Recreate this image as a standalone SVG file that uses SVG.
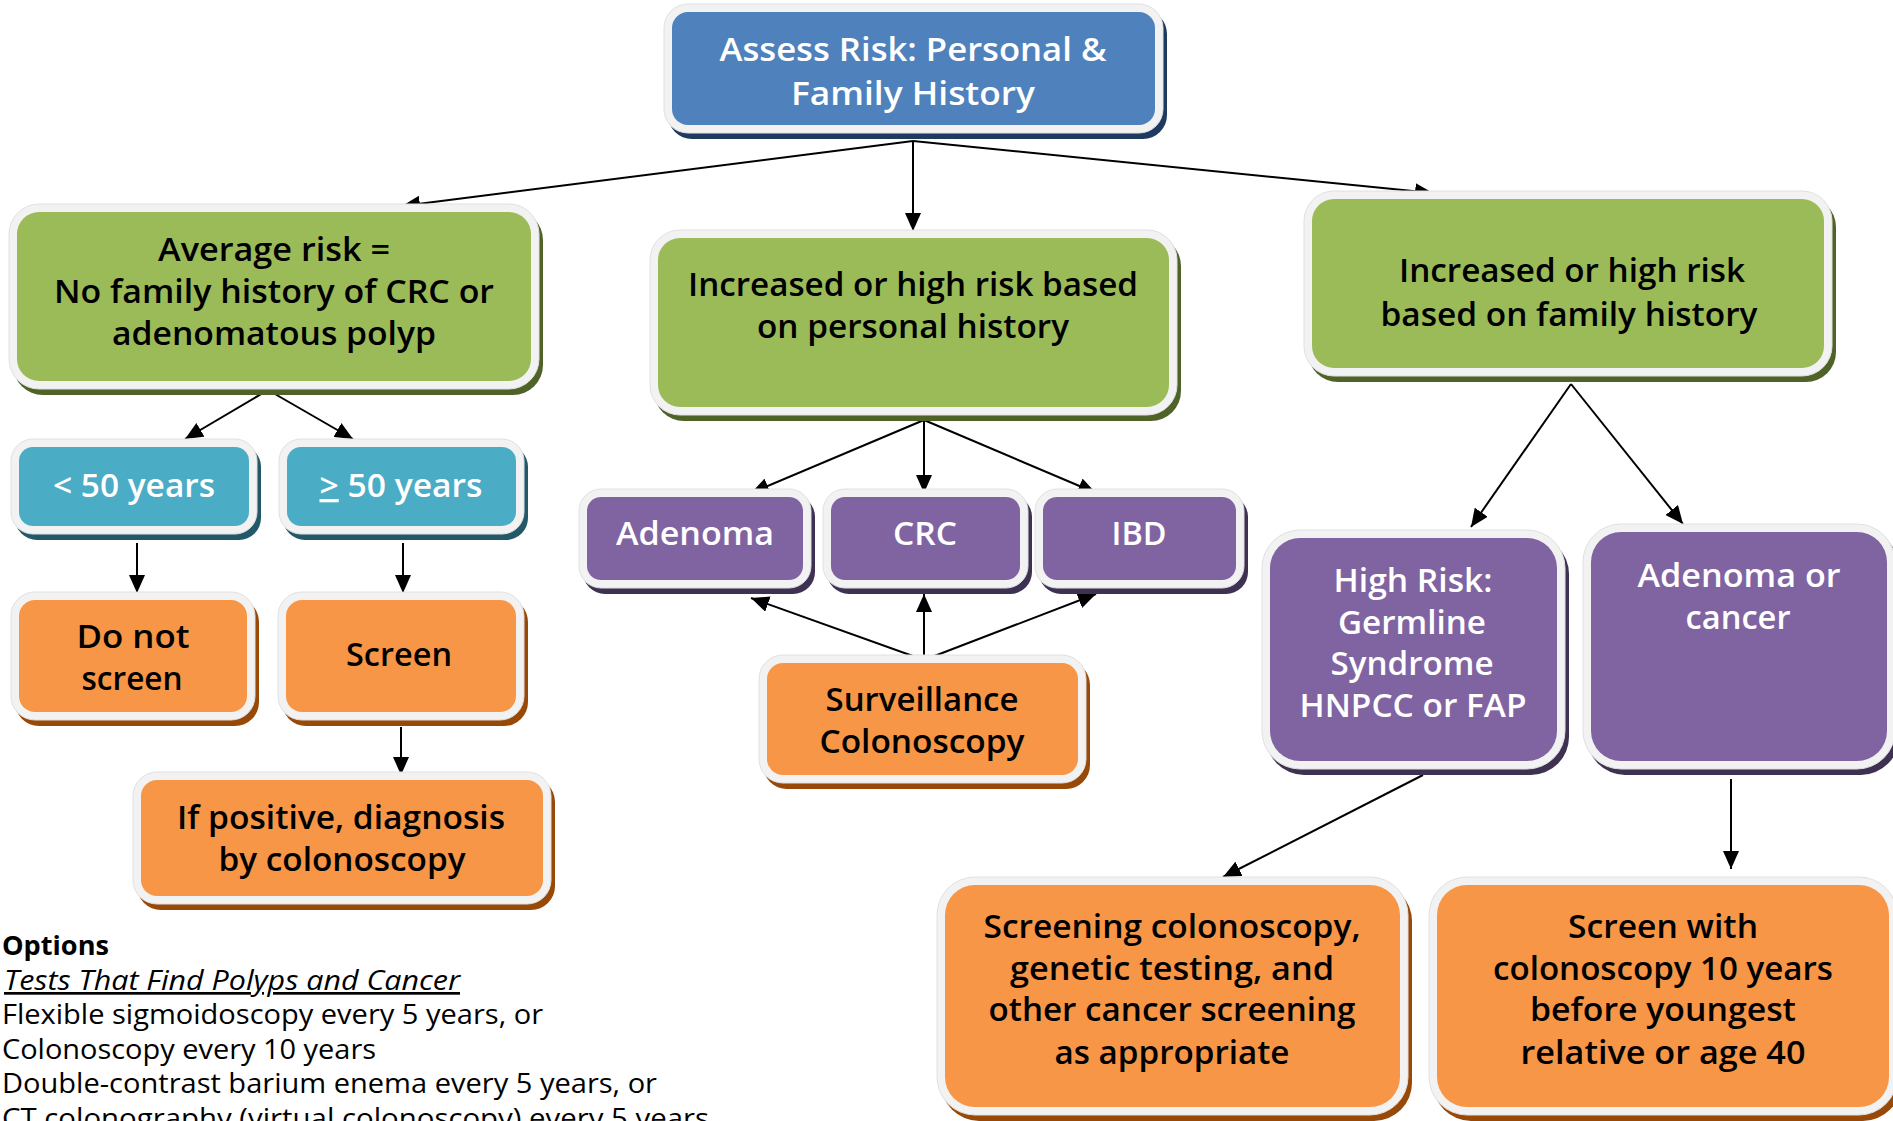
<svg xmlns="http://www.w3.org/2000/svg" width="1893" height="1121" viewBox="0 0 1893 1121">
<style>
  .border { fill: #f2f2f2; stroke: #e0e0e0; stroke-width: 1; }
  .blue { fill: #4f81bd; } .sh-blue { fill: #1f3a5f; }
  .green { fill: #9bbb59; } .sh-green { fill: #4f6228; }
  .teal { fill: #4bacc6; } .sh-teal { fill: #215968; }
  .orange { fill: #f79646; } .sh-orange { fill: #984807; }
  .purple { fill: #8064a2; } .sh-purple { fill: #3f3151; }
  text { font-family: "Open Sans", "Noto Sans", "Liberation Sans", sans-serif; }
  .t { font-size: 33px; font-weight: 600; text-anchor: middle; }
  .dark { fill: #000000; }
  .light { fill: #ffffff; }
  .opt { font-size: 27px; fill: #000000; }
  .conn line { stroke: #000000; stroke-width: 2; fill: none; }
</style>
<defs>
  <marker id="ah" markerUnits="userSpaceOnUse" markerWidth="19" markerHeight="16" refX="18" refY="8" orient="auto">
    <path d="M0,0 L18,8 L0,16 z" fill="#000000"/>
  </marker>
</defs>

<g class="conn" id="connectors">
  <line x1="913" y1="141" x2="402" y2="206" marker-end="url(#ah)"/>
  <line x1="913" y1="141" x2="913" y2="231" marker-end="url(#ah)"/>
  <line x1="913" y1="141" x2="1433" y2="193" marker-end="url(#ah)"/>
  <line x1="268" y1="390" x2="185" y2="439" marker-end="url(#ah)"/>
  <line x1="268" y1="390" x2="353" y2="439" marker-end="url(#ah)"/>
  <line x1="137" y1="543" x2="137" y2="593" marker-end="url(#ah)"/>
  <line x1="403" y1="543" x2="403" y2="593" marker-end="url(#ah)"/>
  <line x1="401" y1="727" x2="401" y2="775" marker-end="url(#ah)"/>
  <line x1="924" y1="420" x2="751" y2="493" marker-end="url(#ah)"/>
  <line x1="924" y1="420" x2="924" y2="493" marker-end="url(#ah)"/>
  <line x1="924" y1="420" x2="1096" y2="493" marker-end="url(#ah)"/>
  <line x1="924" y1="660" x2="751" y2="598" marker-end="url(#ah)"/>
  <line x1="924" y1="660" x2="924" y2="594" marker-end="url(#ah)"/>
  <line x1="924" y1="660" x2="1096" y2="594" marker-end="url(#ah)"/>
  <line x1="1571" y1="384" x2="1471" y2="527" marker-end="url(#ah)"/>
  <line x1="1571" y1="384" x2="1683" y2="524" marker-end="url(#ah)"/>
  <line x1="1423" y1="775" x2="1223" y2="877" marker-end="url(#ah)"/>
  <line x1="1731" y1="779" x2="1731" y2="869" marker-end="url(#ah)"/>
</g>

<g id="assess-risk">
  <rect class="sh-blue" x="668" y="10" width="499" height="129" rx="24"/>
  <rect class="border" x="664" y="4" width="499" height="129" rx="24"/>
  <rect class="blue" x="672" y="12" width="483" height="113" rx="16"/>
  <text class="t light" x="913" y="61" textLength="387" lengthAdjust="spacingAndGlyphs">Assess Risk: Personal &amp;</text>
  <text class="t light" x="913" y="105" textLength="244" lengthAdjust="spacingAndGlyphs">Family History</text>
</g>

<g id="average-risk">
  <rect class="sh-green" x="13" y="210" width="530" height="185" rx="30"/>
  <rect class="border" x="9" y="204" width="530" height="185" rx="30"/>
  <rect class="green" x="17" y="212" width="514" height="169" rx="22"/>
  <text class="t dark" x="274" y="261" textLength="232" lengthAdjust="spacingAndGlyphs">Average risk =</text>
  <text class="t dark" x="274" y="303" textLength="440" lengthAdjust="spacingAndGlyphs">No family history of CRC or</text>
  <text class="t dark" x="274" y="345" textLength="324" lengthAdjust="spacingAndGlyphs">adenomatous polyp</text>
</g>

<g id="personal-history">
  <rect class="sh-green" x="654" y="236" width="527" height="185" rx="30"/>
  <rect class="border" x="650" y="230" width="527" height="185" rx="30"/>
  <rect class="green" x="658" y="238" width="511" height="169" rx="22"/>
  <text class="t dark" x="913" y="296" textLength="450" lengthAdjust="spacingAndGlyphs">Increased or high risk based</text>
  <text class="t dark" x="913" y="338" textLength="312" lengthAdjust="spacingAndGlyphs">on personal history</text>
</g>

<g id="family-history">
  <rect class="sh-green" x="1308" y="197" width="528" height="185" rx="30"/>
  <rect class="border" x="1304" y="191" width="528" height="185" rx="30"/>
  <rect class="green" x="1312" y="199" width="512" height="169" rx="22"/>
  <text class="t dark" x="1572" y="282" textLength="346" lengthAdjust="spacingAndGlyphs">Increased or high risk</text>
  <text class="t dark" x="1569" y="326" textLength="377" lengthAdjust="spacingAndGlyphs">based on family history</text>
</g>

<g id="under-50">
  <rect class="sh-teal" x="15" y="445" width="246" height="95" rx="22"/>
  <rect class="border" x="11" y="439" width="246" height="95" rx="22"/>
  <rect class="teal" x="19" y="447" width="230" height="79" rx="14"/>
  <text class="t light" x="134" y="497" textLength="162" lengthAdjust="spacingAndGlyphs">&lt; 50 years</text>
</g>

<g id="over-50">
  <rect class="sh-teal" x="283" y="445" width="245" height="95" rx="22"/>
  <rect class="border" x="279" y="439" width="245" height="95" rx="22"/>
  <rect class="teal" x="287" y="447" width="229" height="79" rx="14"/>
  <text class="t light" x="401" y="497" textLength="163" lengthAdjust="spacingAndGlyphs"><tspan text-decoration="underline">&gt;</tspan> 50 years</text>
</g>

<g id="do-not-screen">
  <rect class="sh-orange" x="15" y="598" width="244" height="128" rx="24"/>
  <rect class="border" x="11" y="592" width="244" height="128" rx="24"/>
  <rect class="orange" x="19" y="600" width="228" height="112" rx="16"/>
  <text class="t dark" x="133" y="648" textLength="113" lengthAdjust="spacingAndGlyphs">Do not</text>
  <text class="t dark" x="132" y="690" textLength="101" lengthAdjust="spacingAndGlyphs">screen</text>
</g>

<g id="screen">
  <rect class="sh-orange" x="282" y="598" width="246" height="128" rx="24"/>
  <rect class="border" x="278" y="592" width="246" height="128" rx="24"/>
  <rect class="orange" x="286" y="600" width="230" height="112" rx="16"/>
  <text class="t dark" x="399" y="666" textLength="106" lengthAdjust="spacingAndGlyphs">Screen</text>
</g>

<g id="if-positive">
  <rect class="sh-orange" x="137" y="778" width="418" height="132" rx="24"/>
  <rect class="border" x="133" y="772" width="418" height="132" rx="24"/>
  <rect class="orange" x="141" y="780" width="402" height="116" rx="16"/>
  <text class="t dark" x="341" y="829" textLength="328" lengthAdjust="spacingAndGlyphs">If positive, diagnosis</text>
  <text class="t dark" x="342" y="871" textLength="247" lengthAdjust="spacingAndGlyphs">by colonoscopy</text>
</g>

<g id="adenoma">
  <rect class="sh-purple" x="583" y="495" width="232" height="99" rx="22"/>
  <rect class="border" x="579" y="489" width="232" height="99" rx="22"/>
  <rect class="purple" x="587" y="497" width="216" height="83" rx="14"/>
  <text class="t light" x="695" y="545" textLength="158" lengthAdjust="spacingAndGlyphs">Adenoma</text>
</g>

<g id="crc">
  <rect class="sh-purple" x="827" y="495" width="205" height="99" rx="22"/>
  <rect class="border" x="823" y="489" width="205" height="99" rx="22"/>
  <rect class="purple" x="831" y="497" width="189" height="83" rx="14"/>
  <text class="t light" x="925" y="545" textLength="64" lengthAdjust="spacingAndGlyphs">CRC</text>
</g>

<g id="ibd">
  <rect class="sh-purple" x="1039" y="495" width="209" height="99" rx="22"/>
  <rect class="border" x="1035" y="489" width="209" height="99" rx="22"/>
  <rect class="purple" x="1043" y="497" width="193" height="83" rx="14"/>
  <text class="t light" x="1139" y="545" textLength="55" lengthAdjust="spacingAndGlyphs">IBD</text>
</g>

<g id="surveillance">
  <rect class="sh-orange" x="763" y="661" width="327" height="128" rx="24"/>
  <rect class="border" x="759" y="655" width="327" height="128" rx="24"/>
  <rect class="orange" x="767" y="663" width="311" height="112" rx="16"/>
  <text class="t dark" x="922" y="711" textLength="193" lengthAdjust="spacingAndGlyphs">Surveillance</text>
  <text class="t dark" x="922" y="753" textLength="205" lengthAdjust="spacingAndGlyphs">Colonoscopy</text>
</g>

<g id="high-risk">
  <rect class="sh-purple" x="1266" y="536" width="303" height="239" rx="38"/>
  <rect class="border" x="1262" y="530" width="303" height="239" rx="38"/>
  <rect class="purple" x="1270" y="538" width="287" height="223" rx="30"/>
  <text class="t light" x="1413" y="592" textLength="159" lengthAdjust="spacingAndGlyphs">High Risk:</text>
  <text class="t light" x="1412" y="634" textLength="148" lengthAdjust="spacingAndGlyphs">Germline</text>
  <text class="t light" x="1412" y="675" textLength="163" lengthAdjust="spacingAndGlyphs">Syndrome</text>
  <text class="t light" x="1413" y="717" textLength="227" lengthAdjust="spacingAndGlyphs">HNPCC or FAP</text>
</g>

<g id="adenoma-or-cancer">
  <rect class="sh-purple" x="1587" y="530" width="312" height="245" rx="38"/>
  <rect class="border" x="1583" y="524" width="312" height="245" rx="38"/>
  <rect class="purple" x="1591" y="532" width="296" height="229" rx="30"/>
  <text class="t light" x="1739" y="587" textLength="203" lengthAdjust="spacingAndGlyphs">Adenoma or</text>
  <text class="t light" x="1738" y="629" textLength="105" lengthAdjust="spacingAndGlyphs">cancer</text>
</g>

<g id="screening-genetic">
  <rect class="sh-orange" x="941" y="883" width="471" height="238" rx="38"/>
  <rect class="border" x="937" y="877" width="471" height="238" rx="38"/>
  <rect class="orange" x="945" y="885" width="455" height="222" rx="30"/>
  <text class="t dark" x="1172" y="938" textLength="377" lengthAdjust="spacingAndGlyphs">Screening colonoscopy,</text>
  <text class="t dark" x="1172" y="980" textLength="324" lengthAdjust="spacingAndGlyphs">genetic testing, and</text>
  <text class="t dark" x="1172" y="1021" textLength="367" lengthAdjust="spacingAndGlyphs">other cancer screening</text>
  <text class="t dark" x="1172" y="1064" textLength="235" lengthAdjust="spacingAndGlyphs">as appropriate</text>
</g>

<g id="screen-with">
  <rect class="sh-orange" x="1433" y="883" width="468" height="238" rx="38"/>
  <rect class="border" x="1429" y="877" width="468" height="238" rx="38"/>
  <rect class="orange" x="1437" y="885" width="452" height="222" rx="30"/>
  <text class="t dark" x="1663" y="938" textLength="190" lengthAdjust="spacingAndGlyphs">Screen with</text>
  <text class="t dark" x="1663" y="980" textLength="340" lengthAdjust="spacingAndGlyphs">colonoscopy 10 years</text>
  <text class="t dark" x="1663" y="1021" textLength="266" lengthAdjust="spacingAndGlyphs">before youngest</text>
  <text class="t dark" x="1663" y="1064" textLength="285" lengthAdjust="spacingAndGlyphs">relative or age 40</text>
</g>

<g id="options">
  <text class="opt" x="2" y="955" font-weight="700" textLength="107" lengthAdjust="spacingAndGlyphs">Options</text>
  <text class="opt" x="4" y="990" font-style="italic" text-decoration="underline" textLength="456" lengthAdjust="spacingAndGlyphs">Tests That Find Polyps and Cancer</text>
  <text class="opt" x="2" y="1024" textLength="541" lengthAdjust="spacingAndGlyphs">Flexible sigmoidoscopy every 5 years, or</text>
  <text class="opt" x="2" y="1059" textLength="374" lengthAdjust="spacingAndGlyphs">Colonoscopy every 10 years</text>
  <text class="opt" x="2" y="1093" textLength="655" lengthAdjust="spacingAndGlyphs">Double-contrast barium enema every 5 years, or</text>
  <text class="opt" x="2" y="1128" textLength="707" lengthAdjust="spacingAndGlyphs">CT colonography (virtual colonoscopy) every 5 years</text>
</g>
</svg>
